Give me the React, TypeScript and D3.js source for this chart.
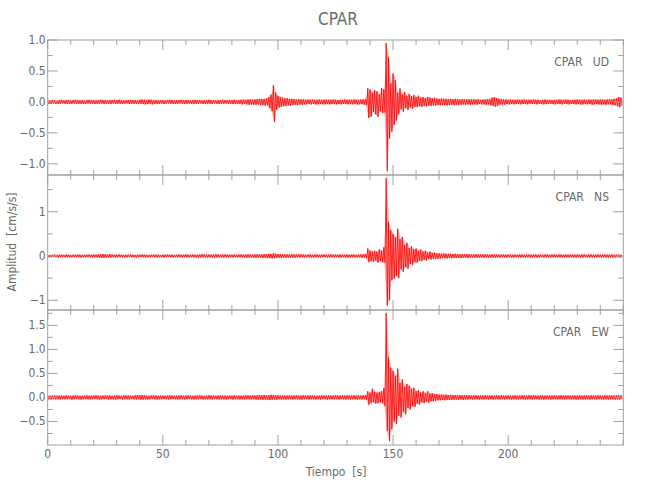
import React from "react";
import * as d3 from "d3";

const TITLE = "CPAR";
const X_LABEL = "Tiempo  [s]";
const Y_LABEL = "Amplitud  [cm/s/s]";
const COMPONENTS = ["CPAR   UD", "CPAR   NS", "CPAR   EW"];
const X_DOMAIN = [0, 250];
const X_MAJOR = [0, 50, 100, 150, 200];
const X_MINOR_STEP = 10;

// y domains per panel
const Y_DOMAINS = [[-1.18, 1.0], [-1.22, 1.83], [-0.99, 1.82]];
const Y_MAJOR = [[-1, -0.5, 0, 0.5, 1], [-1, 0, 1], [-0.5, 0, 0.5, 1, 1.5]];
const Y_MINOR = [[-0.75, -0.25, 0.25, 0.75], [-0.5, 0.5, 1.5], [-0.75, -0.25, 0.25, 0.75, 1.25, 1.75]];
const Y_FORMAT = ["0.0", "0", "0.0"];

// per-second envelopes (upper / lower), t = 0..249 s
const UD_UP = [
  0.03,0.025,0.035,0.03,0.02,0.03,0.035,0.025,0.03,0.03,
  0.025,0.03,0.035,0.03,0.025,0.03,0.02,0.03,0.035,0.03,
  0.03,0.025,0.03,0.035,0.03,0.03,0.025,0.03,0.03,0.035,
  0.03,0.035,0.03,0.025,0.03,0.03,0.035,0.03,0.03,0.025,
  0.035,0.04,0.035,0.03,0.04,0.035,0.03,0.03,0.025,0.03,
  0.03,0.025,0.03,0.035,0.03,0.025,0.03,0.03,0.035,0.03,
  0.03,0.03,0.025,0.03,0.035,0.03,0.03,0.025,0.03,0.03,
  0.035,0.03,0.03,0.025,0.03,0.03,0.035,0.03,0.03,0.03,
  0.03,0.035,0.03,0.03,0.035,0.04,0.035,0.04,0.045,0.04,
  0.04,0.045,0.05,0.045,0.05,0.06,0.08,0.12,0.27,0.15,
  0.1,0.08,0.07,0.06,0.06,0.05,0.05,0.045,0.04,0.045,
  0.04,0.04,0.035,0.04,0.035,0.04,0.035,0.035,0.04,0.035,
  0.035,0.04,0.035,0.035,0.04,0.035,0.03,0.035,0.035,0.04,
  0.035,0.04,0.035,0.04,0.035,0.035,0.04,0.04,0.05,0.22,
  0.2,0.15,0.19,0.17,0.12,0.22,0.2,0.95,0.72,0.3,
  0.46,0.35,0.15,0.22,0.12,0.16,0.1,0.13,0.09,0.11,
  0.08,0.1,0.07,0.08,0.06,0.08,0.07,0.06,0.07,0.055,
  0.05,0.055,0.05,0.05,0.045,0.05,0.045,0.05,0.045,0.04,
  0.045,0.04,0.045,0.04,0.04,0.045,0.04,0.04,0.035,0.04,
  0.04,0.045,0.05,0.07,0.08,0.06,0.05,0.045,0.04,0.04,
  0.035,0.04,0.035,0.035,0.04,0.035,0.035,0.04,0.035,0.035,
  0.035,0.04,0.035,0.035,0.03,0.035,0.04,0.035,0.035,0.03,
  0.035,0.035,0.04,0.035,0.035,0.04,0.035,0.03,0.035,0.035,
  0.04,0.035,0.035,0.04,0.035,0.04,0.035,0.04,0.04,0.035,
  0.04,0.04,0.035,0.04,0.045,0.04,0.05,0.06,0.08,0.07,
];
const UD_DN = [
  -0.03,-0.035,-0.025,-0.03,-0.035,-0.03,-0.025,-0.03,-0.035,-0.03,
  -0.03,-0.025,-0.03,-0.035,-0.03,-0.03,-0.035,-0.025,-0.03,-0.03,
  -0.035,-0.03,-0.03,-0.025,-0.035,-0.03,-0.03,-0.035,-0.025,-0.03,
  -0.03,-0.03,-0.035,-0.03,-0.025,-0.035,-0.03,-0.03,-0.03,-0.035,
  -0.03,-0.035,-0.04,-0.035,-0.03,-0.04,-0.035,-0.03,-0.03,-0.025,
  -0.035,-0.03,-0.025,-0.03,-0.03,-0.035,-0.03,-0.025,-0.03,-0.035,
  -0.03,-0.025,-0.03,-0.035,-0.03,-0.03,-0.025,-0.035,-0.03,-0.03,
  -0.03,-0.035,-0.025,-0.03,-0.035,-0.03,-0.03,-0.025,-0.035,-0.03,
  -0.035,-0.03,-0.035,-0.03,-0.04,-0.035,-0.04,-0.045,-0.04,-0.045,
  -0.045,-0.04,-0.05,-0.05,-0.06,-0.055,-0.1,-0.15,-0.32,-0.13,
  -0.09,-0.08,-0.07,-0.065,-0.055,-0.06,-0.05,-0.045,-0.05,-0.04,
  -0.045,-0.04,-0.04,-0.035,-0.04,-0.035,-0.04,-0.04,-0.035,-0.04,
  -0.04,-0.035,-0.04,-0.035,-0.035,-0.04,-0.035,-0.04,-0.03,-0.035,
  -0.04,-0.035,-0.04,-0.035,-0.04,-0.04,-0.035,-0.045,-0.05,-0.26,
  -0.24,-0.16,-0.2,-0.24,-0.15,-0.18,-0.17,-1.12,-0.59,-0.48,
  -0.37,-0.3,-0.2,-0.12,-0.16,-0.1,-0.13,-0.09,-0.11,-0.08,
  -0.085,-0.07,-0.08,-0.065,-0.07,-0.06,-0.065,-0.055,-0.06,-0.05,
  -0.055,-0.05,-0.05,-0.055,-0.05,-0.045,-0.05,-0.045,-0.045,-0.045,
  -0.04,-0.045,-0.04,-0.045,-0.04,-0.04,-0.045,-0.035,-0.04,-0.04,
  -0.045,-0.04,-0.055,-0.065,-0.075,-0.06,-0.045,-0.04,-0.045,-0.035,
  -0.04,-0.035,-0.04,-0.035,-0.035,-0.04,-0.035,-0.035,-0.04,-0.03,
  -0.035,-0.035,-0.04,-0.03,-0.035,-0.04,-0.035,-0.035,-0.03,-0.035,
  -0.04,-0.035,-0.035,-0.04,-0.03,-0.035,-0.04,-0.035,-0.035,-0.04,
  -0.035,-0.04,-0.04,-0.035,-0.04,-0.035,-0.045,-0.04,-0.035,-0.04,
  -0.045,-0.04,-0.045,-0.04,-0.04,-0.05,-0.055,-0.07,-0.085,-0.06,
];

const NS_UP = [
  0.03,0.025,0.03,0.035,0.025,0.03,0.03,0.025,0.035,0.03,
  0.025,0.03,0.03,0.035,0.03,0.025,0.03,0.03,0.035,0.03,
  0.035,0.03,0.04,0.04,0.045,0.04,0.035,0.04,0.035,0.03,
  0.03,0.035,0.03,0.025,0.03,0.03,0.035,0.03,0.025,0.03,
  0.03,0.035,0.03,0.03,0.025,0.03,0.035,0.03,0.03,0.025,
  0.03,0.03,0.035,0.03,0.03,0.025,0.03,0.035,0.03,0.03,
  0.035,0.03,0.03,0.035,0.03,0.03,0.035,0.04,0.035,0.03,
  0.035,0.03,0.035,0.04,0.035,0.03,0.035,0.035,0.03,0.035,
  0.03,0.035,0.03,0.035,0.035,0.03,0.035,0.04,0.035,0.035,
  0.035,0.04,0.035,0.04,0.04,0.045,0.05,0.045,0.06,0.05,
  0.045,0.04,0.04,0.035,0.04,0.035,0.04,0.035,0.035,0.04,
  0.035,0.035,0.03,0.035,0.035,0.03,0.035,0.035,0.03,0.035,
  0.035,0.03,0.035,0.035,0.03,0.035,0.03,0.035,0.035,0.03,
  0.035,0.03,0.035,0.035,0.03,0.035,0.035,0.04,0.045,0.17,
  0.12,0.1,0.12,0.1,0.15,0.12,0.2,1.76,0.77,0.58,
  0.5,0.42,0.62,0.38,0.43,0.25,0.3,0.18,0.22,0.15,
  0.17,0.12,0.15,0.1,0.12,0.08,0.1,0.07,0.08,0.06,
  0.06,0.05,0.06,0.05,0.05,0.05,0.045,0.05,0.045,0.04,
  0.04,0.045,0.04,0.04,0.035,0.04,0.04,0.035,0.04,0.035,
  0.04,0.035,0.035,0.04,0.035,0.035,0.03,0.035,0.035,0.03,
  0.035,0.035,0.03,0.035,0.03,0.035,0.035,0.03,0.035,0.035,
  0.03,0.035,0.035,0.03,0.035,0.03,0.035,0.035,0.03,0.035,
  0.035,0.03,0.035,0.035,0.03,0.035,0.03,0.035,0.035,0.03,
  0.035,0.03,0.035,0.035,0.03,0.035,0.035,0.03,0.035,0.035,
  0.03,0.035,0.035,0.03,0.035,0.035,0.03,0.035,0.035,0.03,
];
const NS_DN = [
  -0.03,-0.03,-0.025,-0.03,-0.035,-0.03,-0.025,-0.03,-0.03,-0.035,
  -0.03,-0.025,-0.03,-0.03,-0.035,-0.03,-0.03,-0.025,-0.03,-0.035,
  -0.03,-0.035,-0.04,-0.045,-0.04,-0.04,-0.035,-0.035,-0.03,-0.035,
  -0.03,-0.025,-0.03,-0.035,-0.03,-0.025,-0.03,-0.03,-0.035,-0.03,
  -0.025,-0.03,-0.035,-0.03,-0.03,-0.025,-0.03,-0.035,-0.03,-0.03,
  -0.035,-0.03,-0.025,-0.03,-0.035,-0.03,-0.03,-0.025,-0.035,-0.03,
  -0.03,-0.035,-0.03,-0.03,-0.035,-0.04,-0.035,-0.03,-0.035,-0.035,
  -0.03,-0.035,-0.04,-0.035,-0.03,-0.035,-0.035,-0.03,-0.035,-0.03,
  -0.035,-0.03,-0.035,-0.03,-0.035,-0.035,-0.04,-0.035,-0.035,-0.04,
  -0.04,-0.035,-0.04,-0.045,-0.04,-0.05,-0.045,-0.055,-0.05,-0.045,
  -0.04,-0.045,-0.035,-0.04,-0.035,-0.04,-0.035,-0.04,-0.035,-0.035,
  -0.03,-0.035,-0.035,-0.03,-0.035,-0.035,-0.03,-0.035,-0.035,-0.03,
  -0.03,-0.035,-0.035,-0.03,-0.035,-0.03,-0.035,-0.035,-0.03,-0.035,
  -0.035,-0.035,-0.03,-0.035,-0.035,-0.03,-0.04,-0.035,-0.05,-0.14,
  -0.12,-0.13,-0.1,-0.15,-0.12,-0.14,-0.15,-1.12,-1.0,-0.55,
  -0.51,-0.45,-0.5,-0.3,-0.36,-0.25,-0.29,-0.18,-0.2,-0.14,
  -0.15,-0.11,-0.12,-0.09,-0.1,-0.07,-0.08,-0.06,-0.07,-0.06,
  -0.055,-0.05,-0.05,-0.055,-0.045,-0.05,-0.045,-0.045,-0.04,-0.045,
  -0.04,-0.04,-0.045,-0.035,-0.04,-0.04,-0.035,-0.04,-0.035,-0.04,
  -0.035,-0.04,-0.035,-0.035,-0.04,-0.035,-0.035,-0.03,-0.035,-0.035,
  -0.03,-0.035,-0.035,-0.03,-0.035,-0.035,-0.03,-0.035,-0.03,-0.035,
  -0.035,-0.03,-0.035,-0.035,-0.03,-0.035,-0.03,-0.035,-0.035,-0.03,
  -0.035,-0.035,-0.03,-0.035,-0.035,-0.03,-0.035,-0.03,-0.035,-0.035,
  -0.03,-0.035,-0.035,-0.03,-0.035,-0.035,-0.03,-0.035,-0.035,-0.03,
  -0.035,-0.03,-0.035,-0.035,-0.03,-0.035,-0.035,-0.03,-0.035,-0.035,
];

const EW_UP = [
  0.04,0.035,0.04,0.045,0.035,0.04,0.04,0.035,0.045,0.04,
  0.035,0.04,0.045,0.04,0.035,0.04,0.04,0.045,0.035,0.04,
  0.04,0.045,0.04,0.035,0.04,0.045,0.04,0.04,0.035,0.04,
  0.045,0.04,0.035,0.04,0.045,0.04,0.04,0.035,0.045,0.05,
  0.045,0.05,0.045,0.04,0.035,0.04,0.045,0.04,0.035,0.04,
  0.04,0.035,0.04,0.045,0.04,0.035,0.04,0.04,0.045,0.035,
  0.04,0.045,0.04,0.035,0.04,0.04,0.045,0.04,0.035,0.04,
  0.045,0.04,0.04,0.035,0.04,0.045,0.04,0.04,0.035,0.04,
  0.04,0.045,0.04,0.04,0.035,0.04,0.045,0.04,0.04,0.045,
  0.04,0.045,0.05,0.045,0.05,0.045,0.05,0.055,0.05,0.045,
  0.045,0.04,0.045,0.04,0.04,0.045,0.04,0.04,0.045,0.04,
  0.04,0.045,0.04,0.04,0.045,0.04,0.04,0.035,0.04,0.045,
  0.04,0.04,0.045,0.04,0.04,0.045,0.04,0.04,0.045,0.04,
  0.045,0.04,0.04,0.045,0.04,0.045,0.04,0.045,0.05,0.13,
  0.1,0.18,0.12,0.1,0.12,0.13,0.2,1.76,0.83,0.62,
  0.55,0.45,0.6,0.3,0.38,0.22,0.28,0.24,0.18,0.2,
  0.13,0.15,0.1,0.13,0.09,0.13,0.08,0.09,0.07,0.07,
  0.06,0.06,0.055,0.06,0.05,0.055,0.05,0.05,0.045,0.05,
  0.045,0.05,0.045,0.045,0.04,0.045,0.045,0.04,0.045,0.04,
  0.045,0.04,0.045,0.04,0.04,0.045,0.04,0.045,0.04,0.04,
  0.045,0.04,0.04,0.045,0.04,0.04,0.045,0.04,0.04,0.045,
  0.04,0.045,0.04,0.04,0.045,0.04,0.04,0.045,0.04,0.04,
  0.045,0.04,0.04,0.045,0.04,0.045,0.04,0.04,0.045,0.04,
  0.04,0.045,0.04,0.04,0.045,0.04,0.045,0.04,0.04,0.045,
  0.04,0.04,0.045,0.04,0.045,0.04,0.04,0.045,0.04,0.045,
];
const EW_DN = [
  -0.04,-0.045,-0.035,-0.04,-0.04,-0.045,-0.035,-0.04,-0.04,-0.035,
  -0.045,-0.04,-0.035,-0.04,-0.045,-0.04,-0.035,-0.04,-0.045,-0.04,
  -0.035,-0.04,-0.045,-0.04,-0.04,-0.035,-0.045,-0.04,-0.04,-0.045,
  -0.04,-0.035,-0.045,-0.04,-0.04,-0.045,-0.035,-0.04,-0.045,-0.04,
  -0.05,-0.045,-0.04,-0.045,-0.04,-0.035,-0.04,-0.045,-0.04,-0.04,
  -0.035,-0.04,-0.045,-0.04,-0.035,-0.04,-0.045,-0.04,-0.04,-0.045,
  -0.04,-0.035,-0.04,-0.045,-0.04,-0.04,-0.035,-0.045,-0.04,-0.04,
  -0.04,-0.045,-0.035,-0.04,-0.045,-0.04,-0.04,-0.045,-0.04,-0.035,
  -0.045,-0.04,-0.04,-0.045,-0.04,-0.045,-0.04,-0.04,-0.045,-0.04,
  -0.045,-0.05,-0.045,-0.05,-0.045,-0.05,-0.055,-0.05,-0.045,-0.05,
  -0.04,-0.045,-0.04,-0.045,-0.04,-0.04,-0.045,-0.04,-0.04,-0.045,
  -0.045,-0.04,-0.04,-0.045,-0.04,-0.04,-0.045,-0.04,-0.045,-0.04,
  -0.04,-0.045,-0.04,-0.04,-0.045,-0.04,-0.045,-0.04,-0.04,-0.045,
  -0.04,-0.045,-0.04,-0.04,-0.045,-0.04,-0.045,-0.04,-0.05,-0.15,
  -0.12,-0.1,-0.13,-0.12,-0.1,-0.12,-0.18,-0.7,-0.91,-0.67,
  -0.5,-0.55,-0.38,-0.42,-0.3,-0.35,-0.22,-0.25,-0.18,-0.2,
  -0.13,-0.15,-0.1,-0.12,-0.09,-0.11,-0.08,-0.08,-0.07,-0.06,
  -0.06,-0.055,-0.06,-0.05,-0.055,-0.05,-0.05,-0.045,-0.05,-0.045,
  -0.05,-0.045,-0.045,-0.04,-0.045,-0.045,-0.04,-0.045,-0.04,-0.045,
  -0.04,-0.045,-0.04,-0.045,-0.04,-0.04,-0.045,-0.04,-0.045,-0.04,
  -0.04,-0.045,-0.04,-0.04,-0.045,-0.04,-0.04,-0.045,-0.04,-0.04,
  -0.045,-0.04,-0.04,-0.045,-0.04,-0.045,-0.04,-0.04,-0.045,-0.04,
  -0.04,-0.045,-0.04,-0.04,-0.045,-0.04,-0.04,-0.045,-0.04,-0.045,
  -0.045,-0.04,-0.045,-0.04,-0.04,-0.045,-0.04,-0.04,-0.045,-0.04,
  -0.04,-0.045,-0.04,-0.045,-0.04,-0.04,-0.045,-0.04,-0.045,-0.04,
];

const SERIES = [
  { up: UD_UP, dn: UD_DN },
  { up: NS_UP, dn: NS_DN },
  { up: EW_UP, dn: EW_DN },
];

const W = 650;
const H = 500;
const LEFT = 47.7;
const RIGHT = 623.3;
const PANEL_TOP = 40;
const PANEL_H = 135;
const AXIS = "#a0a0a0";
const TEXT = "#6a6a6a";
const FONT = "'Liberation Sans Narrow', 'DejaVu Sans Condensed', 'Liberation Sans', sans-serif";

export default function App() {
  const x = d3.scaleLinear().domain(X_DOMAIN).range([LEFT, RIGHT]);
  const xMinor = d3.range(X_DOMAIN[0], X_DOMAIN[1] + 0.001, X_MINOR_STEP).filter((v) => !X_MAJOR.includes(v));

  return (
    <svg width={W} height={H} style={{ position: "absolute", left: 0, top: 0, background: "#fff" }} fontFamily={FONT}>
      <text x={338} y={25} textAnchor="middle" fontSize={17} fill={TEXT}>{TITLE}</text>
      {SERIES.map((s, p) => {
        const top = PANEL_TOP + p * PANEL_H;
        const bot = top + PANEL_H;
        const y = d3.scaleLinear().domain(Y_DOMAINS[p]).range([bot, top]);
        const pts: [number, number][] = [];
        s.up.forEach((u, i) => {
          pts.push([x(i), y(u)]);
          pts.push([x(i + 0.5), y(s.dn[i])]);
        });
        const line = d3.line();
        const area = d3
          .area<number>()
          .x((_, i) => x(i + 0.25))
          .y0((_, i) => y(s.dn[i]))
          .y1((u) => y(u));
        const fmt = Y_FORMAT[p] === "0.0" ? d3.format(".1f") : d3.format("d");
        return (
          <g key={p}>
            <path d={area(s.up) || ""} fill="#ff0000" fillOpacity={0.3} stroke="none" />
            <path d={line(pts) || ""} fill="none" stroke="#ff0000" strokeWidth={0.8} />
            <rect x={LEFT} y={top} width={RIGHT - LEFT} height={PANEL_H} fill="none" stroke={AXIS} strokeWidth={1} />
            {X_MAJOR.map((v) => (
              <g key={"xM" + v}>
                <line x1={x(v)} x2={x(v)} y1={top} y2={top + 10} stroke={AXIS} />
                <line x1={x(v)} x2={x(v)} y1={bot} y2={bot - 10} stroke={AXIS} />
              </g>
            ))}
            {xMinor.map((v) => (
              <g key={"xm" + v}>
                <line x1={x(v)} x2={x(v)} y1={top} y2={top + 5} stroke={AXIS} />
                <line x1={x(v)} x2={x(v)} y1={bot} y2={bot - 5} stroke={AXIS} />
              </g>
            ))}
            {Y_MAJOR[p].map((v) => (
              <g key={"yM" + v}>
                <line x1={LEFT} x2={LEFT + 10} y1={y(v)} y2={y(v)} stroke={AXIS} />
                <line x1={RIGHT} x2={RIGHT - 10} y1={y(v)} y2={y(v)} stroke={AXIS} />
                <text x={LEFT - 2} y={y(v) + 4} textAnchor="end" fontSize={12} fill={TEXT}>
                  {fmt(v).replace("-", "\u2212")}
                </text>
              </g>
            ))}
            {Y_MINOR[p].map((v) => (
              <g key={"ym" + v}>
                <line x1={LEFT} x2={LEFT + 5} y1={y(v)} y2={y(v)} stroke={AXIS} />
                <line x1={RIGHT} x2={RIGHT - 5} y1={y(v)} y2={y(v)} stroke={AXIS} />
              </g>
            ))}
            <text x={609} y={top + 26} textAnchor="end" fontSize={12} fill={TEXT} style={{ whiteSpace: "pre" }}>
              {COMPONENTS[p]}
            </text>
          </g>
        );
      })}
      {X_MAJOR.map((v) => (
        <text key={"xl" + v} x={x(v)} y={458} textAnchor="middle" fontSize={12} fill={TEXT}>{v}</text>
      ))}
      <text x={336} y={476} textAnchor="middle" fontSize={12} fill={TEXT} style={{ whiteSpace: "pre" }}>{X_LABEL}</text>
      <text transform="translate(16,242) rotate(-90)" textAnchor="middle" fontSize={12} fill={TEXT} style={{ whiteSpace: "pre" }}>{Y_LABEL}</text>
    </svg>
  );
}
